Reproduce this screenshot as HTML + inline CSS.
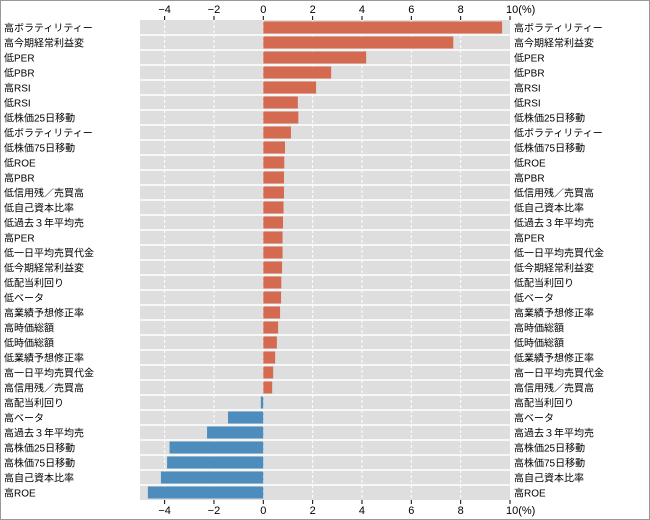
<!DOCTYPE html><html><head><meta charset="utf-8"><style>
html,body{margin:0;padding:0;background:#fff}
svg{display:block;font-family:"Liberation Sans","Noto Sans CJK JP",sans-serif}
</style></head><body>
<svg width="650" height="520" viewBox="0 0 650 520" xmlns="http://www.w3.org/2000/svg">
<rect x="0.5" y="0.5" width="649" height="519" fill="#fff" stroke="#999"/>
<rect x="140" y="20" width="370" height="480" fill="#dedede"/>
<g id="rows"></g>
<script>
var labels=["高ボラティリティー","高今期経常利益変","低PER","低PBR","高RSI","低RSI","低株価25日移動","低ボラティリティー","低株価75日移動","低ROE","高PBR","低信用残／売買高","低自己資本比率","低過去３年平均売","高PER","低一日平均売買代金","低今期経常利益変","低配当利回り","低ベータ","高業績予想修正率","高時価総額","低時価総額","低業績予想修正率","高一日平均売買代金","高信用残／売買高","高配当利回り","高ベータ","高過去３年平均売","高株価25日移動","高株価75日移動","高自己資本比率","高ROE"];
var vals=[9.68,7.7,4.17,2.75,2.14,1.4,1.42,1.12,0.88,0.85,0.84,0.84,0.82,0.8,0.78,0.78,0.76,0.73,0.72,0.68,0.6,0.55,0.48,0.4,0.36,-0.1,-1.43,-2.28,-3.8,-3.9,-4.15,-4.68];
var ns="http://www.w3.org/2000/svg",s=document.currentScript.parentNode,g=document.getElementById("rows");
function el(t,a,txt){var e=document.createElementNS(ns,t);for(var k in a)e.setAttribute(k,a[k]);if(txt!=null)e.textContent=txt;s.appendChild(e);return e;}
var z=263.3,u=24.67;
for(var t=-4;t<=10;t+=2){var x=z+t*u;if(t<10)el("line",{x1:x,x2:x,y1:20,y2:500,stroke:"#fff","stroke-dasharray":"3,2","stroke-width":1});
el("line",{x1:x,x2:x,y1:16,y2:20,stroke:"#000"});el("line",{x1:x,x2:x,y1:500,y2:504,stroke:"#000"});
var lb=(t<0?"\u2212"+(-t):""+t)+(t==10?"(%)":"");
el("text",{x:x,y:13,"font-size":11,"text-anchor":t==10?"start":"middle",dx:t==10?-4:0},lb);
el("text",{x:x,y:514,"font-size":11,"text-anchor":t==10?"start":"middle",dx:t==10?-4:0},lb);}
for(var i=0;i<32;i++){var y=20+i*15;
if(i>0)el("line",{x1:140,x2:510,y1:y,y2:y,stroke:"#fff","stroke-width":1.5});
var v=vals[i],x0=v>=0?z:z+v*u,w=Math.abs(v)*u;
el("rect",{x:x0,y:y+1.5,width:w,height:12,fill:v>=0?"#d46a50":"#4d8dbd"});
el("text",{x:4,y:y+11.5,"font-size":10},labels[i]);
el("text",{x:514,y:y+11.5,"font-size":10},labels[i]);}
</script>
</svg>
</body></html>
